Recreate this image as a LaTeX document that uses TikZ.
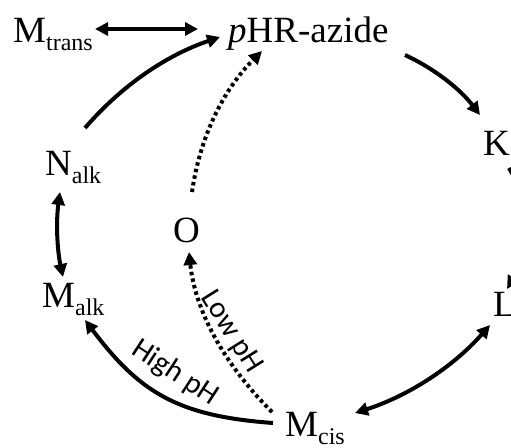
\documentclass[tikz,border=0pt]{standalone}
\usepackage{fontspec}
\setmainfont{Liberation Serif}
\newfontfamily\labfont{Carlito}
\usetikzlibrary{arrows.meta}
\newcommand\subtxt[1]{\raisebox{-8.5pt}{\fontsize{24}{24}\selectfont #1}}
\begin{document}
\begin{tikzpicture}[x=1pt,y=-1pt,
  lbl/.style={anchor=base west,inner sep=0pt,font=\fontsize{37}{37}\selectfont},
  tip/.style={-{Triangle[length=13pt,width=13pt]}},
  both/.style={{Triangle[length=13pt,width=13pt]}-{Triangle[length=13pt,width=13pt]}},
  solidln/.style={line width=4pt},
  dotln/.style={line width=4pt,dash pattern=on 3.5pt off 3.2pt},
  phlbl/.style={inner sep=0pt,font=\labfont\fontsize{30}{30}\selectfont}]
\useasboundingbox (0,0) rectangle (511,447);
\clip (0,0) rectangle (511,447);
\node[lbl] (mtrans) at (13,42) {M\subtxt{trans}};
\node[lbl] (phr) at (228,42) {\textit{p}HR-azide};
\node[lbl] (K) at (483,155) {K};
\node[lbl] (L) at (493,316) {L};
\node[lbl] (mcis) at (285,436) {M\subtxt{cis}};
\node[lbl] (malk) at (42,307) {M\subtxt{alk}};
\node[lbl] (nalk) at (45,175) {N\subtxt{alk}};
\node[lbl] (O) at (173,242) {O};
% connectors
\draw[solidln,both] ([shift={(82,-13)}]mtrans.base west) -- ([shift={(-30,-13)}]phr.base west);
\draw[solidln,tip] ([shift={(40,-47)}]nalk.base west) .. controls (122,85) and (167,55) .. ([shift={(-8,-5)}]phr.base west);
\draw[solidln,tip] ([shift={(177,13)}]phr.base west) .. controls (435,69) and (460,89) .. ([shift={(-3,-40)}]K.base west);
\draw[solidln,tip] ([shift={(26,13)}]K.base west) .. controls (533,208) and (532,248) .. ([shift={(14,-27)}]L.base west);
\draw[solidln,both] ([shift={(70,-23)}]mcis.base west) .. controls (408,396) and (453,367) .. ([shift={(-3,9)}]L.base west);
\draw[solidln,tip] ([shift={(-12,-13)}]mcis.base west) .. controls (178,416) and (140,393) .. ([shift={(43,13)}]malk.base west);
\draw[dotln,tip] ([shift={(-13,-24)}]mcis.base west) .. controls (222,362) and (195,309) .. ([shift={(16,10)}]O.base west);
\draw[dotln,tip] ([shift={(19,-50)}]O.base west) .. controls (200,137) and (223,90) .. ([shift={(34,9)}]phr.base west);
\draw[solidln,both] ([shift={(15,17)}]nalk.base west) .. controls (56,221) and (57,249) .. ([shift={(21,-30)}]malk.base west);
% labels
\node[phlbl,rotate=-33] (high) at (175,373) {High pH};
\node[phlbl,rotate=-58] (low) at (231,332) {Low pH};
\end{tikzpicture}
\end{document}
